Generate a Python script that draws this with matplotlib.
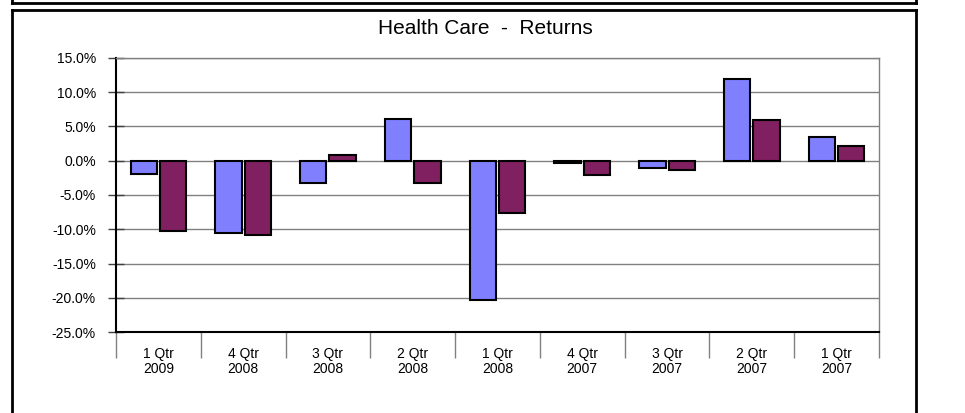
import numpy as np
import matplotlib
matplotlib.use('Agg')
from matplotlib import pyplot as plt
from matplotlib.lines import Line2D

plt.rcParams['font.family'] = ['Liberation Sans', 'DejaVu Sans']

############ DATA
quarters = ['1 Qtr\n2009', '4 Qtr\n2008', '3 Qtr\n2008', '2 Qtr\n2008', '1 Qtr\n2008',
            '4 Qtr\n2007', '3 Qtr\n2007', '2 Qtr\n2007', '1 Qtr\n2007']
series_a = [-2.0, -10.6, -3.3, 6.1, -20.4, -0.4, -1.0, 11.9, 3.4]
series_b = [-10.3, -10.8, 0.8, -3.3, -7.7, -2.1, -1.3, 6.0, 2.2]
yticks = [-25, -20, -15, -10, -5, 0, 5, 10, 15]

color_a = '#8080FF'
color_b = '#802060'

############ FIGURE
fig = plt.figure(figsize=(9.65, 4.13), dpi=100)
ax = fig.add_axes([116/965, 81/413, (879-116)/965, (332-58)/413])

x = np.arange(len(quarters))
w = 0.31
off = w/2 + 0.018
ax.bar(x - off, series_a, width=w, color=color_a, edgecolor='black', linewidth=1.5, zorder=3)
ax.bar(x + off, series_b, width=w, color=color_b, edgecolor='black', linewidth=1.5, zorder=3)

ax.set_ylim(-25, 15)
ax.set_xlim(-0.5, len(quarters) - 0.5)
ax.set_yticks(yticks)
ax.set_yticklabels(['%.1f%%' % v for v in yticks], fontsize=10)
ax.yaxis.grid(True, color='#808080', linewidth=1, zorder=0)
ax.tick_params(axis='y', length=11, width=1, color='#404040', direction='inout', pad=9)

# category boundaries as long major ticks, labels on minor ticks
ax.set_xticks(np.arange(-0.5, len(quarters), 1.0))
ax.set_xticklabels([])
ax.tick_params(axis='x', which='major', length=19, width=1, color='#808080', direction='out')
ax.set_xticks(x, minor=True)
ax.set_xticklabels(quarters, minor=True, fontsize=10, linespacing=1.1)
ax.tick_params(axis='x', which='minor', length=0, pad=11)

for s in ['left', 'bottom']:
    ax.spines[s].set_color('black')
    ax.spines[s].set_linewidth(1.5)
for s in ['top', 'right']:
    ax.spines[s].set_color('#808080')
    ax.spines[s].set_linewidth(1)

fig.text(485/965, 1 - 29/413, 'Health Care  -  Returns', ha='center', va='center', fontsize=15)

# frame boxes around the chart
def px(xp, yp):
    return xp/965, 1 - yp/413

lw = 2
for (x0, y0), (x1, y1) in [((12, -5), (12, 3)), ((916, -5), (916, 3)), ((12, 3), (916, 3)),
                           ((12, 10), (916, 10)), ((12, 10), (12, 420)), ((916, 10), (916, 420))]:
    a, b = px(x0, y0)
    c, d = px(x1, y1)
    fig.add_artist(Line2D([a, c], [b, d], color='black', linewidth=lw, transform=fig.transFigure))

plt.savefig('out.png', dpi=100)
